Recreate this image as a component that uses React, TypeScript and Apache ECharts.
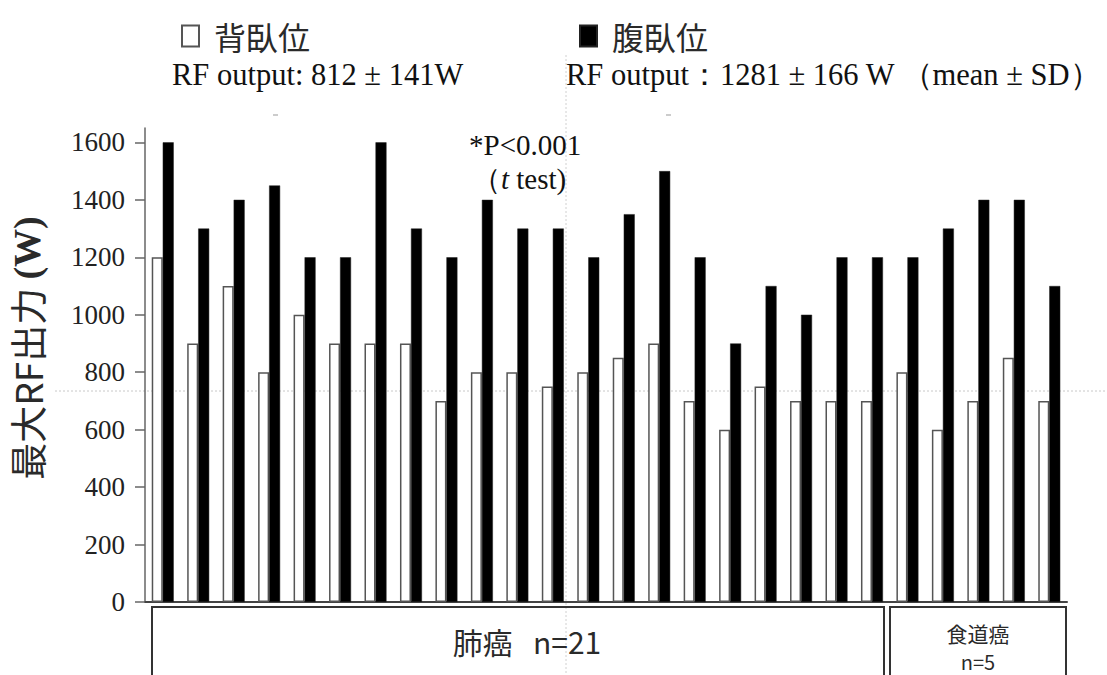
import React, { useEffect, useRef } from "react";
import * as echarts from "echarts";

const patients = [
  "1", "2", "3", "4", "5", "6", "7", "8", "9", "10", "11", "12", "13",
  "14", "15", "16", "17", "18", "19", "20", "21", "22", "23", "24", "25", "26",
];
const supineValues = [
  1200, 900, 1100, 800, 1000, 900, 900, 900, 700, 800, 800, 750, 800,
  850, 900, 700, 600, 750, 700, 700, 700, 800, 600, 700, 850, 700,
];
const proneValues = [
  1600, 1300, 1400, 1450, 1200, 1200, 1600, 1300, 1200, 1400, 1300, 1300, 1200,
  1350, 1500, 1200, 900, 1100, 1000, 1200, 1200, 1200, 1300, 1400, 1400, 1100,
];
const yTicks = [0, 200, 400, 600, 800, 1000, 1200, 1400, 1600];
const seriesNames = ["背臥位", "腹臥位"];

const SERIF = "'Liberation Serif', 'DejaVu Serif', serif";
const CJK = "'Noto Sans CJK JP', 'Noto Sans', sans-serif";

export default function App() {
  const ref = useRef<HTMLDivElement>(null);
  useEffect(() => {
    if (!ref.current) return;
    const chart = echarts.init(ref.current, null, { renderer: "svg" });
    chart.setOption({
      animation: false,
      backgroundColor: "#ffffff",
      grid: { left: 145, right: 40, top: 128, bottom: 73, containLabel: false },
      legend: [
        {
          data: [seriesNames[0]],
          left: 176,
          top: 15,
          icon: "rect",
          itemWidth: 17,
          itemHeight: 21,
          textStyle: { fontFamily: CJK, fontSize: 32, color: "#2a2a2a", padding: [0, 0, 0, 10] },
          selectedMode: false,
        },
        {
          data: [seriesNames[1]],
          left: 574,
          top: 15,
          icon: "rect",
          itemWidth: 17,
          itemHeight: 21,
          textStyle: { fontFamily: CJK, fontSize: 32, color: "#2a2a2a", padding: [0, 0, 0, 10] },
          selectedMode: false,
        },
      ],
      xAxis: {
        type: "category",
        data: patients,
        axisLine: { show: true, lineStyle: { color: "#444", width: 2 } },
        axisTick: { show: false },
        axisLabel: { show: false },
        splitLine: { show: false },
      },
      yAxis: {
        type: "value",
        min: 0,
        max: 1650,
        interval: 200,
        axisLine: { show: true, lineStyle: { color: "#666", width: 1.5 } },
        axisTick: { show: true, length: 10, lineStyle: { color: "#666", width: 1.5 }, customValues: yTicks },
        axisLabel: {
          customValues: yTicks,
          formatter: (v: number) => String(v),
          fontFamily: SERIF,
          fontSize: 27,
          color: "#222",
          margin: 20,
        },
        splitLine: { show: false },
      },
      series: [
        {
          name: seriesNames[0],
          type: "bar",
          data: supineValues,
          barWidth: 11,
          barGap: "0%",
          itemStyle: { color: "#ffffff", borderColor: "#555", borderWidth: 1.5 },
        },
        {
          name: seriesNames[1],
          type: "bar",
          data: proneValues,
          barWidth: 11,
          barGap: "0%",
          itemStyle: { color: "#000000", borderColor: "#222", borderWidth: 0.5 },
        },
      ],
      graphic: [
        {
          type: "line",
          z: 0,
          shape: { x1: 55, y1: 391, x2: 1107, y2: 391 },
          style: { stroke: "#c8c8c8", lineWidth: 1, lineDash: [2, 2] },
        },
        {
          type: "line",
          z: 0,
          shape: { x1: 566, y1: 55, x2: 566, y2: 675 },
          style: { stroke: "#d0d0d0", lineWidth: 1, lineDash: [2, 2] },
        },
        { type: "line", shape: { x1: 273, y1: 115, x2: 278, y2: 115 }, style: { stroke: "#999", lineWidth: 1 } },
        { type: "line", shape: { x1: 666, y1: 115, x2: 671, y2: 115 }, style: { stroke: "#999", lineWidth: 1 } },
        {
          type: "text",
          left: 172,
          top: 59,
          style: { text: "RF output: 812 ± 141W", fontFamily: SERIF, fontSize: 30.5, fill: "#111" },
        },
        {
          type: "text",
          left: 566,
          top: 59,
          style: { text: "RF output：1281 ± 166 W （mean ± SD）", fontFamily: SERIF, fontSize: 30.5, fill: "#111" },
        },
        {
          type: "text",
          left: 469,
          top: 130,
          style: { text: "*P<0.001", fontFamily: SERIF, fontSize: 29, fill: "#111" },
        },
        {
          type: "text",
          left: 472,
          top: 164,
          style: {
            text: "{p|（}{i|t}{p| test)}",
            fontFamily: SERIF,
            fontSize: 29,
            fill: "#111",
            rich: {
              p: { fontFamily: SERIF, fontSize: 29, fill: "#111" },
              i: { fontFamily: SERIF, fontSize: 29, fontStyle: "italic", fill: "#111" },
            },
          },
        },
        {
          type: "text",
          x: 27,
          y: 348,
          rotation: Math.PI / 2,
          style: {
            text: "{c|最大RF出力 }{w|(W)}",
            align: "center",
            verticalAlign: "middle",
            rich: {
              c: { fontFamily: CJK, fontSize: 37, fill: "#2a2a2a" },
              w: { fontFamily: SERIF, fontSize: 38, fontWeight: "bold", fill: "#2a2a2a" },
            },
          },
        },
        {
          type: "rect",
          shape: { x: 152, y: 607, width: 732, height: 90 },
          style: { fill: "none", stroke: "#333", lineWidth: 2 },
        },
        {
          type: "rect",
          shape: { x: 890, y: 607, width: 176, height: 90 },
          style: { fill: "none", stroke: "#333", lineWidth: 2 },
        },
        {
          type: "text",
          x: 527,
          y: 641,
          style: { text: "肺癌   n=21", fontFamily: CJK, fontSize: 30, fill: "#2a2a2a", align: "center", verticalAlign: "middle" },
        },
        {
          type: "text",
          x: 978,
          y: 633,
          style: { text: "食道癌", fontFamily: CJK, fontSize: 21, fill: "#2a2a2a", align: "center", verticalAlign: "middle" },
        },
        {
          type: "text",
          x: 978,
          y: 661,
          style: { text: "n=5", fontFamily: CJK, fontSize: 20, fill: "#2a2a2a", align: "center", verticalAlign: "middle" },
        },
      ],
    });
    return () => chart.dispose();
  }, []);
  return (
    <div
      ref={ref}
      style={{ position: "fixed", left: 0, top: 0, width: 1107, height: 675, background: "#fff" }}
    />
  );
}
